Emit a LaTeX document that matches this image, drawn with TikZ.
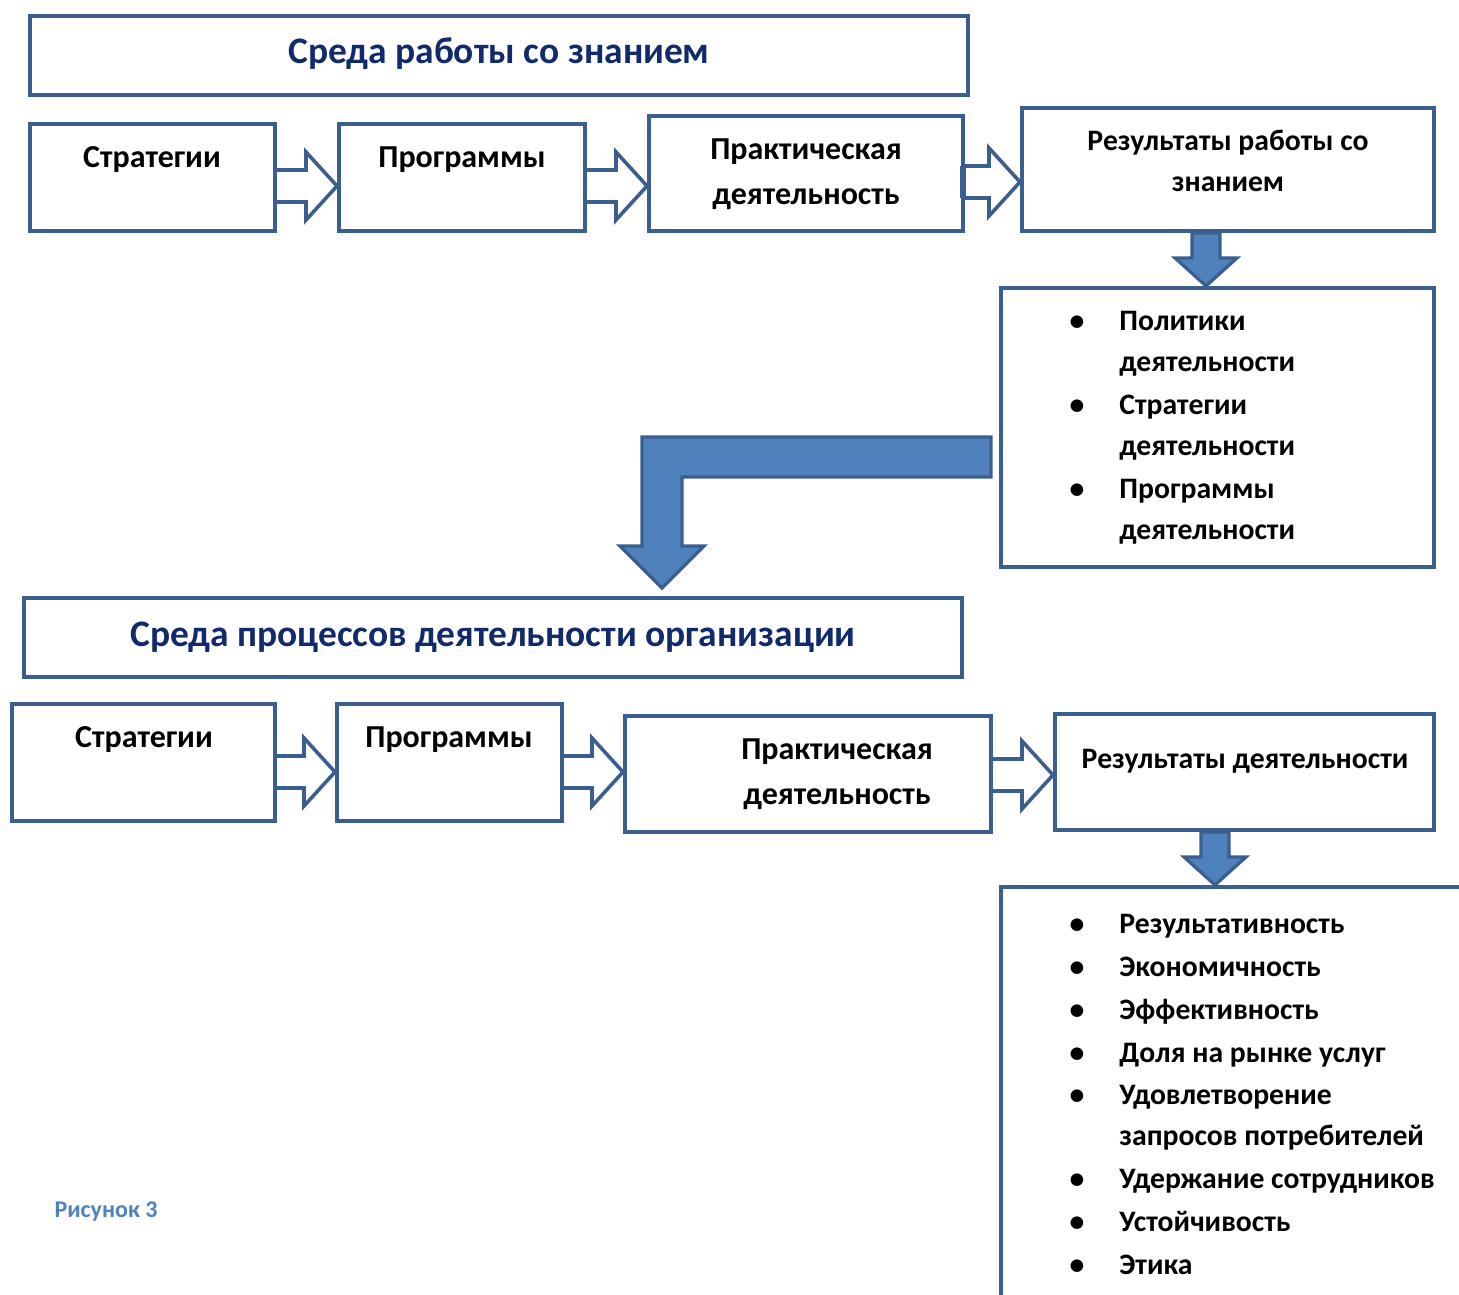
\documentclass[tikz,border=0pt]{standalone}
\usepackage{fontspec}
\setmainfont{Carlito}
\usetikzlibrary{calc,fit}
\definecolor{boxblue}{HTML}{3A5F8E}
\definecolor{arrowblue}{HTML}{4F81BD}
\definecolor{titleblue}{HTML}{102A6C}
\tikzset{
  box/.style={draw=boxblue, line width=2pt, inner sep=0pt},
  hollow/.style={draw=boxblue, line width=1.8pt, fill=white},
  blockfill/.style={draw=boxblue, fill=arrowblue, line width=1.6pt},
  lbl/.style={font=\bfseries\fontsize{16}{22.5}\selectfont, inner sep=0pt, align=center},
  res/.style={font=\bfseries\fontsize{14.85}{20.5}\selectfont, inner sep=0pt, align=center},
  ttl/.style={font=\bfseries\fontsize{18.73}{23}\selectfont, text=titleblue, inner sep=0pt},
  itm/.style={font=\bfseries\fontsize{14.85}{20}\selectfont, inner sep=0pt, anchor=base west},
  dot/.style={font=\bfseries\fontsize{14.85}{20}\selectfont, inner sep=0pt, anchor=base},
}
% hollow arrow between two boxes of a row
\newcommand{\hollowarrow}[3]{%
  \coordinate (#1-out) at (#1.east |- 0,#3);
  \coordinate (#2-in) at (#2.west |- 0,#3);
  \draw[hollow] ($(#1-out)+(0,-16)$) -- ($(#2-in)+(-31,-16)$) -- ($(#2-in)+(-31,-34)$)
    -- (#2-in) -- ($(#2-in)+(-31,34)$) -- ($(#2-in)+(-31,16)$) -- ($(#1-out)+(0,16)$);
}
% filled arrow going down from one box to the next
\newcommand{\soliddown}[3]{%
  \coordinate (#1-dn) at (#1.south -| #3,0);
  \coordinate (#2-up) at (#2.north -| #3,0);
  \draw[blockfill] ($(#1-dn)+(-14,0)$) -- ($(#2-up)+(-14,-28)$) -- ($(#2-up)+(-31,-28)$)
    -- (#2-up) -- ($(#2-up)+(31,-28)$) -- ($(#2-up)+(14,-28)$) -- ($(#1-dn)+(14,0)$) -- cycle;
}
\begin{document}
\begin{tikzpicture}[x=0.5pt,y=-0.5pt]
  \useasboundingbox (0,0) rectangle (1459,1294);
  \clip (0,0) rectangle (1459,1294);

  % knowledge environment
  \node[box, fit={(30,16) (968,95)}] (t1) {};
  \node[ttl] (t1t) at (499,54) {Среда работы со знанием};
  \node[box, fit={(30,124) (275,231)}] (s1) {};
  \node[box, fit={(339,124) (585,231)}] (p1) {};
  \node[box, fit={(649,116) (963,231)}] (k1) {};
  \node[box, fit={(1022,108) (1434,231)}] (r1) {};
  \node[lbl] (s1t) at (152,160) {Стратегии};
  \node[lbl] (p1t) at (462,160) {Программы};
  \node[lbl] (k1t) at (806,174) {Практическая\\деятельность};
  \node[res] (r1t) at (1228,161) {Результаты работы со\\знанием};
  \hollowarrow{s1}{p1}{186}
  \hollowarrow{p1}{k1}{186}
  \hollowarrow{k1}{r1}{182}
  \fill[boxblue] ($(k1-out)+(-5,-16)$) rectangle ($(k1-out)+(1,16)$);

  \node[box, fit={(1001,288) (1434,567)}] (l1) {};
  \soliddown{r1}{l1}{1206}
  \foreach \y/\t [count=\i] in {321/Политики, 362/деятельности, 405/Стратегии,
      446/деятельности, 489/Программы, 530/деятельности}
    \node[itm] (l1-\i) at (1119,\y+9) {\t};
  \foreach \y [count=\i] in {321,405,489}
    \node[dot] (b1-\i) at (1077,\y+9) {•};

  % bent arrow to the second environment
  \node[box, fit={(24,598) (962,677)}] (t2) {};
  \path (l1.west |- 0,457) ++(-8,0) coordinate (bendstart);
  \path (t2.north -| 662,0) ++(0,-8) coordinate (bendtip);
  \draw[blockfill] ($(bendstart)+(0,-20)$) -- ($(bendtip |- bendstart)+(-20,-20)$)
    -- ($(bendtip)+(-20,-42)$) -- ($(bendtip)+(-42,-42)$) -- (bendtip)
    -- ($(bendtip)+(42,-42)$) -- ($(bendtip)+(20,-42)$)
    -- ($(bendtip |- bendstart)+(20,20)$) -- ($(bendstart)+(0,20)$) -- cycle;

  % business process environment
  \node[ttl] (t2t) at (493,637) {Среда процессов деятельности организации};
  \node[box, fit={(12,704) (275,821)}] (s2) {};
  \node[box, fit={(337,704) (562,821)}] (p2) {};
  \node[box, fit={(625,716) (991,832)}] (k2) {};
  \node[box, fit={(1055,714) (1434,830)}] (r2) {};
  \node[lbl] (s2t) at (144,740) {Стратегии};
  \node[lbl] (p2t) at (449,740) {Программы};
  \node[lbl] (k2t) at (837,774) {Практическая\\деятельность};
  \node[res] (r2t) at (1245,761) {Результаты деятельности};
  \hollowarrow{s2}{p2}{772}
  \hollowarrow{p2}{k2}{772}
  \hollowarrow{k2}{r2}{775}

  \node[box, fit={(1001,887) (1500,1340)}] (l2) {};
  \soliddown{r2}{l2}{1215}
  \foreach \y/\t [count=\i] in {924/Результативность, 967/Экономичность,
      1010/Эффективность, 1053/Доля на рынке услуг, 1095/Удовлетворение,
      1136/запросов потребителей, 1179/Удержание сотрудников,
      1222/Устойчивость, 1265/Этика}
    \node[itm] (l2-\i) at (1119,\y+9) {\t};
  \foreach \y [count=\i] in {924,967,1010,1053,1095,1179,1222,1265}
    \node[dot] (b2-\i) at (1077,\y+9) {•};

  \node[font=\bfseries\fontsize{12}{14}\selectfont, text=arrowblue, inner sep=0pt]
    (cap) at (106,1211) {Рисунок 3};
\end{tikzpicture}
\end{document}
